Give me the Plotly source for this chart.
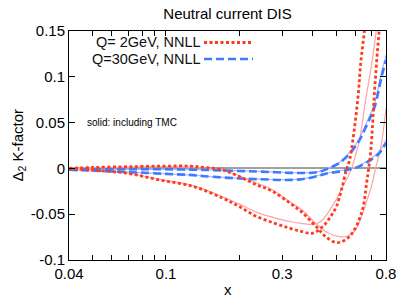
import numpy as np
import plotly.graph_objects as go

# ---------------- data ----------------
# Q = 2 GeV, NNLL (dotted) - curve A
xA = [0.04, 0.05, 0.07, 0.1, 0.125, 0.144, 0.171, 0.2, 0.236, 0.272, 0.322, 0.364,
      0.416, 0.456, 0.506, 0.567, 0.635, 0.666, 0.678, 0.692, 0.70, 0.713, 0.73, 0.75, 0.76]
yA = [0.0, 0.001, 0.0018, 0.0025, 0.0025, 0.001, -0.0016, -0.009, -0.018, -0.0246, -0.0377, -0.0486,
      -0.0644, -0.0753, -0.081, -0.0743, -0.0486, -0.0158, -0.0016, 0.018, 0.035, 0.072, 0.112, 0.151, 0.17]
# Q = 2 GeV, NNLL (dotted) - curve B
xB = [0.04, 0.05, 0.069, 0.094, 0.13, 0.171, 0.2, 0.236, 0.28, 0.322, 0.36, 0.4, 0.44, 0.47,
      0.5, 0.525, 0.55, 0.567, 0.585, 0.614, 0.63, 0.653, 0.67]
yB = [-0.0005, -0.002, -0.0052, -0.0126, -0.0199, -0.0325, -0.0417, -0.0526, -0.060, -0.0653, -0.0688,
      -0.0708, -0.0635, -0.054, -0.042, -0.0235, -0.0016, 0.009, 0.031, 0.078, 0.115, 0.151, 0.18]
# Q = 2 GeV including TMC (solid) - curve A'
xAt = [0.04, 0.07, 0.1, 0.14, 0.171, 0.2, 0.236, 0.272, 0.322, 0.364, 0.414, 0.46, 0.516,
       0.56, 0.6, 0.64, 0.666, 0.7, 0.725, 0.76, 0.8]
yAt = [0.0, 0.0015, 0.002, 0.0005, -0.002, -0.008, -0.016, -0.023, -0.0363, -0.046, -0.0606, -0.07,
       -0.0745, -0.0735, -0.067, -0.05, -0.036, -0.018, 0.0, 0.022, 0.065]
# Q = 2 GeV including TMC (solid) - curve B'
xBt = [0.04, 0.069, 0.094, 0.13, 0.171, 0.2, 0.236, 0.28, 0.322, 0.36, 0.41, 0.44, 0.495, 0.536,
       0.575, 0.605, 0.623, 0.663, 0.7, 0.73, 0.75]
yBt = [-0.0005, -0.005, -0.012, -0.019, -0.031, -0.039, -0.048, -0.054, -0.058, -0.060, -0.061,
       -0.056, -0.036, -0.018, -0.0016, 0.018, 0.031, 0.078, 0.115, 0.151, 0.175]
# Q = 30 GeV, NNLL (dashed) - curve C
xC = [0.04, 0.07, 0.1, 0.144, 0.2, 0.243, 0.33, 0.4, 0.43, 0.46, 0.5, 0.516, 0.567, 0.62,
      0.666, 0.718, 0.767, 0.8]
yC = [-0.001, -0.001, -0.001, -0.0016, -0.0028, -0.0035, -0.0049, -0.0048, -0.0035, -0.0005,
      0.004, 0.006, 0.016, 0.03, 0.047, 0.067, 0.10, 0.118]
yCt = [-0.001, -0.001, -0.001, -0.0014, -0.0025, -0.0032, -0.0045, -0.0043, -0.003, 0.0,
       0.0045, 0.0067, 0.0175, 0.032, 0.050, 0.071, 0.105, 0.124]
# Q = 30 GeV, NNLL (dashed) - curve D
xD = [0.04, 0.07, 0.1, 0.125, 0.144, 0.2, 0.243, 0.3, 0.35, 0.389, 0.43, 0.456, 0.516, 0.56,
      0.6, 0.65, 0.7, 0.753, 0.8]
yD = [-0.0015, -0.004, -0.006, -0.0071, -0.0085, -0.011, -0.0118, -0.0126, -0.0122, -0.0104,
      -0.0075, -0.0055, -0.0035, -0.0015, 0.0005, 0.005, 0.01, 0.017, 0.028]
yDt = [-0.0015, -0.004, -0.006, -0.0071, -0.0084, -0.0108, -0.0116, -0.0123, -0.0118, -0.0100,
       -0.0070, -0.0050, -0.0028, -0.0007, 0.0014, 0.006, 0.0115, 0.019, 0.031]

x_tickvals = [0.04, 0.1, 0.3, 0.8]
x_ticktext = ["0.04", "0.1", "0.3", "0.8"]
x_minorvals = [0.05, 0.06, 0.07, 0.08, 0.09, 0.2, 0.4, 0.5, 0.6, 0.7]
y_tickvals = [-0.1, -0.05, 0, 0.05, 0.1, 0.15]
y_ticktext = ["-0.1", "-0.05", "0", "0.05", "0.1", "0.15"]

legend_labels = ["Q= 2GeV, NNLL", "Q=30GeV, NNLL"]
title_text = "Neutral current DIS"
note_text = "solid: including TMC"

# ---------------- style ----------------
FONT = "Liberation Sans, Arial, Helvetica, sans-serif"
RED = "#ff3b1f"
RED_L = "#ffa3a3"
BLUE = "#3d7bff"
BLUE_L = "#aab9ff"

W, H = 411, 301
L, R, T, B = 69, 25, 31, 41
PW, PH = W - L - R, H - T - B


def px_x(p):
    return (p - L) / PW


def px_y(p):
    return (H - B - p) / PH


fig = go.Figure()

# solid (TMC) curves underneath
for x, y, c in [(xC, yCt, BLUE_L), (xD, yDt, BLUE_L), (xAt, yAt, RED_L), (xBt, yBt, RED_L)]:
    fig.add_trace(go.Scatter(x=x, y=y, mode="lines", line=dict(color=c, width=1.2, shape="spline"),
                             hoverinfo="skip"))
# NNLL curves
for x, y in [(xC, yC), (xD, yD)]:
    fig.add_trace(go.Scatter(x=x, y=y, mode="lines",
                             line=dict(color=BLUE, width=2.6, dash="8px,4px", shape="spline"),
                             hoverinfo="skip"))
for x, y in [(xA, yA), (xB, yB)]:
    fig.add_trace(go.Scatter(x=x, y=y, mode="lines",
                             line=dict(color=RED, width=2.8, dash="3px,2.5px", shape="spline"),
                             hoverinfo="skip"))

axis_common = dict(showline=True, linecolor="black", linewidth=1, mirror="ticks", ticks="inside",
                   tickcolor="black", showgrid=False, tickfont=dict(family=FONT, size=15, color="black"))

fig.update_xaxes(type="log", range=[np.log10(0.04), np.log10(0.8)], tickmode="array",
                 tickvals=x_tickvals, ticktext=x_ticktext, ticklen=5, zeroline=False,
                 minor=dict(tickmode="array", tickvals=x_minorvals, ticks="inside", ticklen=5,
                            tickcolor="black", showgrid=False),
                 **axis_common)
fig.update_yaxes(range=[-0.1, 0.15], tickvals=y_tickvals, ticktext=y_ticktext, ticklen=6,
                 zeroline=True, zerolinecolor="#a0a0a0", zerolinewidth=2, **axis_common)

annotations = [
    dict(text="Δ<sub>2</sub> K-factor", x=px_x(18), y=0.5, xref="paper", yref="paper",
         textangle=-90, showarrow=False, xanchor="center", yanchor="middle",
         font=dict(family=FONT, size=15, color="black")),
    dict(text="x", x=0.5, y=px_y(289), xref="paper", yref="paper", showarrow=False,
         xanchor="center", yanchor="middle", font=dict(family=FONT, size=15, color="black")),
    dict(text=note_text, x=px_x(85), y=px_y(122), xref="paper", yref="paper", showarrow=False,
         xanchor="left", yanchor="middle", font=dict(family=FONT, size=10, color="black")),
]
shapes = []
for i, (lab, col, dash, wd) in enumerate([(legend_labels[0], RED, "3px,2.5px", 2.8),
                                           (legend_labels[1], BLUE, "8px,4px", 2.6)]):
    yy = px_y(42.5 + 16.5 * i)
    annotations.append(dict(text=lab, x=px_x(202), y=yy, xref="paper", yref="paper",
                            showarrow=False, xanchor="right", yanchor="middle", borderpad=0,
                            font=dict(family=FONT, size=14.5, color="#111")))
    shapes.append(dict(type="line", xref="paper", yref="paper", x0=px_x(204), x1=px_x(253),
                       y0=yy, y1=yy, line=dict(color=col, width=wd, dash=dash)))

fig.update_layout(
    width=W, height=H, margin=dict(l=L, r=R, t=T, b=B, pad=0),
    paper_bgcolor="white", plot_bgcolor="white", showlegend=False,
    title=dict(text=title_text, x=227.5 / W, xanchor="center", y=1 - 14 / H, yanchor="middle",
               xref="container", yref="container", font=dict(family=FONT, size=15, color="black")),
    annotations=annotations, shapes=shapes,
)

fig.write_html("out.html", config={"displayModeBar": False},
               post_script="document.body.style.margin='0';document.body.style.overflow='hidden';")
